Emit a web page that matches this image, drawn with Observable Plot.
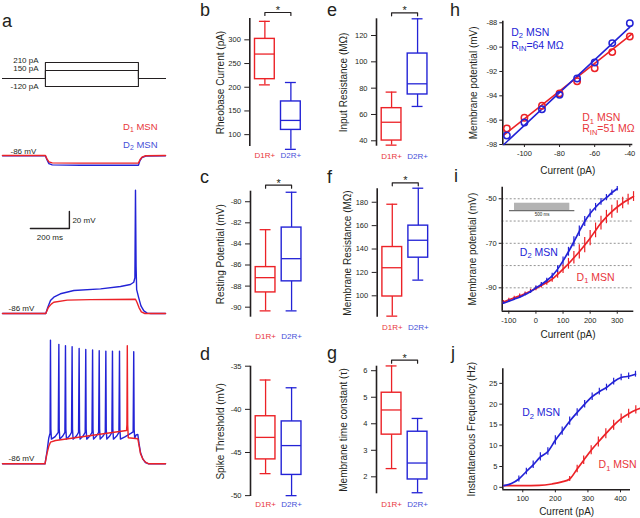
<!DOCTYPE html>
<html><head><meta charset="utf-8">
<script src="https://cdn.jsdelivr.net/npm/d3@7"></script>
<script src="https://cdn.jsdelivr.net/npm/@observablehq/plot@0.6"></script>
<style>
html,body{margin:0;padding:0;background:#fff;}
#fig{position:relative;width:640px;height:518px;overflow:hidden;font-family:"Liberation Sans",Arial,sans-serif;color:#231f20;}
#fig svg{position:absolute;left:0;top:0;}
.letter{position:absolute;font-size:18px;line-height:15px;color:#231f20;}
</style></head><body><div id="fig"></div>
<script>
// ---------------- DATA ----------------
const groups = ["D1R+", "D2R+"];
// box stats: [min, q1, median, q3, max]
const rheobaseD1 = [205, 217, 270, 302, 339];
const rheobaseD2 = [69, 110, 130, 170, 210];
const rheobaseTicks = [100, 150, 200, 250, 300];
const rheobaseDomain = [75, 345];
const restingD1 = [-90.35, -88.6, -87.2, -86.2, -82.65];
const restingD2 = [-90.35, -87.55, -85.4, -82.45, -79.1];
const restingTicks = [-90, -88, -86, -84, -82, -80];
const restingDomain = [-90.95, -79.0];
const thresholdD1 = [-47.45, -45.8, -43.25, -40.8, -36.6];
const thresholdD2 = [-50.0, -47.6, -44.2, -41.4, -37.5];
const thresholdTicks = [-50, -45, -40, -35];
const thresholdDomain = [-50.1, -35];
const inputResD1 = [36.7, 40.2, 54.1, 64.8, 77];
const inputResD2 = [66.1, 75.2, 83.3, 106.3, 132.7];
const inputResTicks = [40, 60, 80, 100, 120];
const inputResDomain = [35.9, 132.7];
const membraneResD1 = [82.6, 99.4, 124, 141.7, 178.3];
const membraneResD2 = [113.4, 132.6, 147.5, 160, 192];
const membraneResTicks = [100, 120, 140, 160, 180];
const membraneResDomain = [81.7, 191.5];
const tauD1 = [2.31, 3.59, 4.52, 5.17, 6.18];
const tauD2 = [1.4, 1.9, 2.52, 3.7, 4.2];
const tauTicks = [2, 3, 4, 5, 6];
const tauDomain = [1.36, 6.17];

// panel a: stimulus protocol (pA levels, schematic) and voltage traces [ms, mV]
const stimLevels = [210, 150, 0, -120];
const stimCurrents = [210, 150, -120];
const stimTimes = [0, 220, 697, 836];
const trace1Red = [[0,-86],[220,-86],[228,-90],[238,-93.5],[255,-94.7],[400,-95],[697,-95],[705,-91],[715,-88],[735,-86.3],[836,-86]];
const trace1Blue = [[0,-86.3],[220,-86.3],[228,-91],[238,-95.5],[255,-97],[400,-97.4],[697,-97.4],[705,-92],[715,-88.5],[735,-86.6],[836,-86.3]];
const trace2Red = [[0,-86],[222,-86],[235,-79],[250,-75],[263,-72.7],[332,-70.3],[450,-69.7],[682,-69.3],[690,-73],[700,-79],[712,-84],[730,-86],[836,-86]];
const trace2Blue = [[0,-86],[222,-86],[232,-79],[246,-70.7],[263,-66.8],[297,-62.8],[366,-59],[503,-57],[605,-54.2],[656,-51.9],[673,-49.2],[679,-44],[682,59],[685,-30],[688,-58],[698,-67],[710,-77],[725,-83],[742,-85.6],[760,-86],[836,-86]];
const trace3Red = [[0,-86],[218,-86],[228,-74],[238,-65],[246,-60.6],[272,-58.6],[636,-46.8],[638,-40],[640,53],[642,-40],[645,-55.4],[694,-56.6],[700,-64],[708,-74.2],[720,-80.5],[733,-84],[750,-86],[836,-86]];
const trace3Blue = [[0,-86],[218,-86],[228,-72],[237,-56],[244,-50],[246,59.5],[248,-45],[251,-57],
 [270,-54],[286,-49],[289,54.5],[291,-45],[294,-57],
 [310,-53],[320,-49],[323,52.9],[325,-45],[328,-57],
 [344,-53],[354,-49],[357,51.7],[359,-45],[362,-57],
 [380,-53],[390,-49],[393,49.7],[395,-45],[398,-57],
 [414,-53],[424,-49],[427,48.6],[429,-45],[432,-57],
 [449,-53],[459,-49],[462,47.8],[464,-45],[467,-57],
 [483,-53],[493,-49],[496,47],[498,-45],[501,-57],
 [517,-53],[527,-49],[530,46.6],[532,-45],[535,-57],
 [551,-53],[561,-49],[564,46.6],[566,-45],[569,-57],
 [587,-53],[597,-49],[600,46.6],[602,-45],[605,-57],
 [630,-54],[660,-50],[670,-48.5],[673,45.8],[675,-45],[678,-56],
 [685,-52],[694,-51.5],[700,-62],[708,-73],[720,-80.5],[733,-84.5],[750,-86],[836,-86]];
const scaleBarT = [143, 343];   // 200 ms
const scaleBarV = [14, 34];     // 20 mV

// panel h
const hCurrents = [-110, -100, -90, -80, -70, -60, -50, -40];
const hD2 = [-97.26, -96.19, -95.1, -93.92, -92.58, -91.26, -89.67, -88.03];
const hD1 = [-96.68, -95.8, -94.82, -93.8, -92.8, -91.73, -90.41, -89.13];
const hFitXD2 = [-111.7, -40], hFitD2 = [-98, -88.36];
const hFitXD1 = [-111.7, -38.7], hFitD1 = [-97.23, -88.91];
const hXTicks = [-100, -80, -60, -40], hYTicks = [-98, -96, -94, -92, -90, -88];
const hXDomain = [-112.3, -38.3], hYDomain = [-98, -87.87];

// panel i
const iCurrents = [-120,-100,-80,-60,-40,-20,0,20,40,60,80,100,120,140,160,180,200,220,240,260,280,300,320,340,360];
const iD2 = [-96.9,-96.0,-95.1,-94.2,-93.0,-91.8,-90.0,-88.5,-86.7,-84.6,-81.6,-77.9,-73.8,-69.3,-64.6,-60.2,-56.6,-53.8,-51.4,-49.5,-47.3,-45.5];
const iD2Err = [0.6,0.6,0.6,0.6,0.7,0.7,0.8,0.9,1.0,1.2,1.5,1.8,2.0,2.2,2.4,2.2,1.9,1.7,1.5,1.4,1.2,1.0];
const iD1 = [-96.4,-95.4,-94.5,-93.6,-92.7,-91.5,-90.3,-89.0,-87.6,-86.1,-84.0,-81.6,-79.2,-76.5,-73.8,-70.8,-67.7,-64.2,-60.9,-58.2,-55.8,-53.7,-51.9,-50.4,-49.0];
const iD1Err = [0.7,0.7,0.7,0.8,0.8,0.9,1.0,1.1,1.2,1.4,1.7,2.0,2.4,2.8,3.2,3.4,3.4,3.3,3.1,3.0,2.9,2.8,2.6,2.4,2.2];
const iGrid = [-50, -60, -70, -80, -90];
const iXTicks = [-100, 0, 100, 200, 300], iYTicks = [-50, -70, -90];
const iXDomain = [-124.4, 361], iYDomain = [-100.5, -44.8];
const insetBarX = [-79, 125], insetBarY = [-55.6, -52];
const insetLineX = [-97.5, 143.5], insetLineY = -55.3;

// panel j
const jD2X = [42, 65, 88, 111, 132, 154, 177, 200, 221, 244, 267, 290, 313, 335, 357, 379, 402, 425, 446];
const jD2Y = [0.4, 0.9, 2.0, 3.8, 5.4, 7.3, 8.6, 11.3, 13.5, 15.9, 18.0, 20.0, 21.8, 23.0, 24.0, 25.4, 26.4, 26.7, 27.2];
const jD2Err = [0, 0, 0.7, 0.8, 0.9, 1.0, 0.9, 1.1, 1.0, 1.0, 0.9, 0.9, 0.9, 0.8, 0.8, 0.8, 0.8, 0.8, 0.7];
const jD1X = [42, 100, 150, 190, 220, 244, 267, 287, 310, 332, 355, 379, 402, 425, 447, 461];
const jD1Y = [0.4, 0.4, 0.45, 0.8, 1.3, 2.0, 4.4, 6.5, 8.9, 10.9, 12.9, 14.9, 16.5, 17.7, 18.6, 19.0];
const jD1Err = [0, 0, 0, 0, 0, 0.6, 0.9, 1.0, 1.1, 1.2, 1.2, 1.2, 1.1, 1.1, 1.0, 0];
const jXTicks = [100, 200, 300, 400], jYTicks = [0, 5, 10, 15, 20, 25];
const jXDomain = [38.7, 430.7], jYDomain = [-0.6, 28.5];

// ---------------- STYLE / LAYOUT ----------------
const RED = "#ec2227", BLUE = "#2323d6", RED_T = "#e8363b", BLUE_T = "#4650d8", INK = "#231f20";
const FONT = '"Liberation Sans", Arial, sans-serif';
const W = 640, H = 518;
const fig = document.getElementById("fig");
const fmt = d => `${d}`;

function panel(frame, options) {
  const [l, t, r, b] = frame;
  const svg = Plot.plot({
    width: W, height: H,
    marginLeft: l, marginTop: t, marginRight: W - r, marginBottom: H - b,
    style: {background: "transparent", overflow: "visible", fontFamily: FONT, color: INK},
    color: {type: "identity"},
    ...options
  });
  fig.appendChild(svg);
  return svg;
}

// ---------- box panels ----------
function boxPanel(d1, d2, domain, ticks, label, sig, lay) {
  const [ax, top, bottom, catDy, labelDx] = lay;
  const xDomain = [0.42, 2.42];
  const rows = [d1, d2].map((s, i) => ({g: groups[i], x: i + 1, min: s[0], q1: s[1], med: s[2], q3: s[3], max: s[4], c: i ? BLUE : RED, ct: i ? BLUE_T : RED_T}));
  const k = (domain[1] - domain[0]) / (bottom - top);
  const marks = [
    Plot.ruleX([xDomain[0]], {y1: domain[0], y2: domain[1], stroke: INK, strokeWidth: 1.6}),
    Plot.axisY({ticks, tickFormat: fmt, anchor: "left", tickSize: 5, tickPadding: 4, fontSize: 7.5, label: null}),
    Plot.text([label], {frameAnchor: "left", rotate: -90, dx: labelDx, textAnchor: "middle", lineAnchor: "middle", fontSize: 10, fill: INK}),
    Plot.ruleX(rows, {x: "x", y1: "min", y2: "q1", stroke: "c", strokeWidth: 1.3}),
    Plot.ruleX(rows, {x: "x", y1: "q3", y2: "max", stroke: "c", strokeWidth: 1.3}),
    Plot.ruleY(rows, {y: "min", x1: d => d.x - 0.21, x2: d => d.x + 0.21, stroke: "c", strokeWidth: 1.3}),
    Plot.ruleY(rows, {y: "max", x1: d => d.x - 0.21, x2: d => d.x + 0.21, stroke: "c", strokeWidth: 1.3}),
    Plot.rect(rows, {x1: d => d.x - 0.38, x2: d => d.x + 0.38, y1: "q1", y2: "q3", fill: "white", stroke: "c", strokeWidth: 1.4}),
    Plot.ruleY(rows, {y: "med", x1: d => d.x - 0.38, x2: d => d.x + 0.38, stroke: "c", strokeWidth: 1.3}),
    Plot.text(rows, {x: "x", text: "g", frameAnchor: "bottom", lineAnchor: "middle", dy: catDy, fill: "ct", fontSize: 8})
  ];
  if (sig) {
    const yb = domain[1] + 6 * k, ye = domain[1] + 3 * k;
    marks.push(Plot.line([[1, ye], [1, yb], [2, yb], [2, ye]], {stroke: INK, strokeWidth: 1.2}));
    marks.push(Plot.text(["*"], {x: 1.5, y: yb, dy: -2, fontSize: 11, fill: INK}));
  }
  panel([ax, top, ax + 52, bottom], {x: {domain: xDomain, axis: null}, y: {domain}, marks});
}
boxPanel(rheobaseD1, rheobaseD2, rheobaseDomain, rheobaseTicks, "Rheobase Current (pA)", true, [249.3, 18, 146, 9, -29]);
boxPanel(restingD1, restingD2, restingDomain, restingTicks, "Resting Potential (mV)", true, [250, 190.7, 316.7, 19, -30]);
boxPanel(thresholdD1, thresholdD2, thresholdDomain, thresholdTicks, "Spike Threshold (mV)", false, [250, 365.7, 496, 8.3, -29.3]);
boxPanel(inputResD1, inputResD2, inputResDomain, inputResTicks, "Input Resistance (MΩ)", true, [376, 18.3, 145.7, 10, -33]);
boxPanel(membraneResD1, membraneResD2, membraneResDomain, membraneResTicks, "Membrane Resistance (MΩ)", true, [376.7, 188.3, 316.7, 10.6, -29]);
boxPanel(tauD1, tauD2, tauDomain, tauTicks, "Membrane time constant (τ)", true, [376, 365.7, 493.3, 10.7, -32.7]);

// ---------- panel a ----------
const MV_PER_PX = 20 / 17, MS_PER_PX = 200 / 39, T_MAX = 836, V_TOP = 70, V_BASE = -86, V_BOT = -100;
function traceFrame(baseY) {
  return [2, baseY - (V_TOP - V_BASE) / MV_PER_PX, 2 + T_MAX / MS_PER_PX, baseY + (V_BASE - V_BOT) / MV_PER_PX];
}
const traceOpts = {x: {domain: [0, T_MAX], axis: null}, y: {domain: [V_BOT, V_TOP], axis: null}};
// stimulus protocol (schematic: current levels on a point scale)
const stimLabelDy = [-2, -2, 0];
panel([2, 62, 2 + T_MAX / MS_PER_PX, 86], {
  x: {domain: [0, T_MAX], axis: null},
  y: {type: "point", domain: stimLevels, padding: 0, axis: null},
  marks: [
    ...stimCurrents.map(I => Plot.line([[stimTimes[0], 0], [stimTimes[1], 0], [stimTimes[1], I], [stimTimes[2], I], [stimTimes[2], 0], [stimTimes[3], 0]], {stroke: INK, strokeWidth: 1.1})),
    ...stimCurrents.map((I, i) => Plot.text([I], {x: 185, y: d => d, text: d => `${d} pA`, textAnchor: "end", fontSize: 8, fill: INK, dy: stimLabelDy[i]}))
  ]
});
// trace 1
panel(traceFrame(155), {...traceOpts, marks: [
  Plot.line(trace1Blue, {stroke: BLUE, strokeWidth: 1.4}),
  Plot.line(trace1Red, {stroke: RED, strokeWidth: 1.4}),
  Plot.text(["-86 mV"], {x: 41, y: V_BASE, dy: -4, textAnchor: "start", fontSize: 8, fill: INK}),
  Plot.text(["D_1 MSN"], {x: 795, y: -51.9, textAnchor: "end", fontSize: 9.5, fill: RED_T}),
  Plot.text(["D_2 MSN"], {x: 795, y: -73.1, textAnchor: "end", fontSize: 9.5, fill: BLUE_T})
]});
// trace 2
panel(traceFrame(313), {...traceOpts, marks: [
  Plot.line(trace2Blue, {stroke: BLUE, strokeWidth: 1.4}),
  Plot.line(trace2Red, {stroke: RED, strokeWidth: 1.4}),
  Plot.text(["-86 mV"], {x: 31, y: V_BASE, dy: -5, textAnchor: "start", fontSize: 8, fill: INK}),
  Plot.line([[scaleBarT[0], scaleBarV[0]], [scaleBarT[1], scaleBarV[0]], [scaleBarT[1], scaleBarV[1]]], {stroke: INK, strokeWidth: 1.4}),
  Plot.text(["20 mV"], {x: scaleBarT[1], y: (scaleBarV[0] + scaleBarV[1]) / 2, dx: 3, textAnchor: "start", fontSize: 8, fill: INK}),
  Plot.text(["200 ms"], {x: (scaleBarT[0] + scaleBarT[1]) / 2, y: scaleBarV[0], dy: 9, fontSize: 8, fill: INK})
]});
// trace 3
panel(traceFrame(463.3), {...traceOpts, marks: [
  Plot.line(trace3Blue, {stroke: BLUE, strokeWidth: 1.4}),
  Plot.line(trace3Red, {stroke: RED, strokeWidth: 1.4}),
  Plot.text(["-86 mV"], {x: 31, y: V_BASE, dy: -5, textAnchor: "start", fontSize: 8, fill: INK})
]});

// ---------- XY panels ----------
function axesXY(xd, yd, xt, yt, yLabel, labelDx, xLabelDy) {
  return [
    Plot.ruleX([xd[0]], {y1: yd[0], y2: yd[1], stroke: INK, strokeWidth: 1.6}),
    Plot.ruleY([yd[0]], {x1: xd[0], x2: xd[1], stroke: INK, strokeWidth: 1.6}),
    Plot.axisY({ticks: yt, tickFormat: fmt, anchor: "left", tickSize: 3, tickPadding: 2.5, fontSize: 7.5, label: null}),
    Plot.axisX({ticks: xt, tickFormat: fmt, anchor: "bottom", tickSize: 3, tickPadding: 3, fontSize: 7.5, label: null}),
    Plot.text([yLabel], {frameAnchor: "left", rotate: -90, dx: labelDx, textAnchor: "middle", lineAnchor: "middle", fontSize: 10, fill: INK}),
    Plot.text(["Current (pA)"], {frameAnchor: "bottom", lineAnchor: "middle", textAnchor: "middle", dy: xLabelDy, fontSize: 10, fill: INK})
  ];
}
// h
panel([502.3, 20.7, 632.3, 144], {
  x: {domain: hXDomain}, y: {domain: hYDomain},
  marks: [
    ...axesXY(hXDomain, hYDomain, hXTicks, hYTicks, "Membrane potential (mV)", -29, 26),
    Plot.line(hFitXD1.map((x, i) => [x, hFitD1[i]]), {stroke: RED, strokeWidth: 1.6}),
    Plot.line(hFitXD2.map((x, i) => [x, hFitD2[i]]), {stroke: BLUE, strokeWidth: 1.6}),
    Plot.dot(hCurrents, {x: d => d, y: (d, i) => hD1[i], r: 3.2, stroke: RED, strokeWidth: 1.5, fill: "none"}),
    Plot.dot(hCurrents, {x: d => d, y: (d, i) => hD2[i], r: 3.2, stroke: BLUE, strokeWidth: 1.5, fill: "none"}),
    Plot.text(["D_2 MSN"], {x: -107.5, y: -88.77, textAnchor: "start", fontSize: 10.5, fill: BLUE}),
    Plot.text(["R_IN=64 MΩ"], {x: -107.5, y: -89.86, textAnchor: "start", fontSize: 10.5, fill: BLUE}),
    Plot.text(["D_1 MSN"], {x: -67.1, y: -95.8, textAnchor: "start", fontSize: 10.5, fill: RED_T}),
    Plot.text(["R_IN=51 MΩ"], {x: -67.1, y: -96.7, textAnchor: "start", fontSize: 10.5, fill: RED_T})
  ]
});
// i
const iRowsD2 = iD2.map((v, i) => ({x: iCurrents[i], y: v, e: iD2Err[i]}));
const iRowsD1 = iD1.map((v, i) => ({x: iCurrents[i], y: v, e: iD1Err[i]}));
panel([501.7, 186.7, 633.3, 310.7], {
  x: {domain: iXDomain}, y: {domain: iYDomain},
  marks: [
    Plot.ruleY(iGrid, {x1: iXDomain[0], x2: iXDomain[1], stroke: "#777", strokeWidth: 0.8, strokeDasharray: "2,2"}),
    ...axesXY(iXDomain, iYDomain, iXTicks, iYTicks, "Membrane potential (mV)", -29.7, 23.6),
    Plot.rect([0], {x1: insetBarX[0], x2: insetBarX[1], y1: insetBarY[0], y2: insetBarY[1], fill: "#b3b3b3"}),
    Plot.ruleY([insetLineY], {x1: insetLineX[0], x2: insetLineX[1], stroke: "#6d6d6d", strokeWidth: 1.4}),
    Plot.text(["500 ms"], {x: (insetBarX[0] + insetBarX[1]) / 2, y: insetLineY, dy: 4, fontSize: 4.5, fill: INK}),
    Plot.line(iRowsD1, {x: "x", y: "y", stroke: RED, strokeWidth: 1.7, curve: "monotone-x"}),
    Plot.ruleX(iRowsD1, {x: "x", y1: d => d.y - d.e, y2: d => d.y + d.e, stroke: RED, strokeWidth: 1.2}),
    Plot.line(iRowsD2, {x: "x", y: "y", stroke: BLUE, strokeWidth: 1.7, curve: "monotone-x"}),
    Plot.ruleX(iRowsD2, {x: "x", y1: d => d.y - d.e, y2: d => d.y + d.e, stroke: BLUE, strokeWidth: 1.2}),
    Plot.text(["D_2 MSN"], {x: -59.5, y: -74.1, textAnchor: "start", fontSize: 10.5, fill: BLUE}),
    Plot.text(["D_1 MSN"], {x: 149.8, y: -85.2, textAnchor: "start", fontSize: 10.5, fill: RED_T})
  ]
});
// j
const jRowsD2 = jD2Y.map((v, i) => ({x: jD2X[i], y: v, e: jD2Err[i]}));
const jRowsD1 = jD1Y.map((v, i) => ({x: jD1X[i], y: v, e: jD1Err[i]}));
panel([502.3, 368.3, 630, 489.3], {
  x: {domain: jXDomain}, y: {domain: jYDomain},
  marks: [
    ...axesXY(jXDomain, jYDomain, jXTicks, jYTicks, "Instantaneous Frequency (Hz)", -30.6, 22.4),
    Plot.line(jRowsD1, {x: "x", y: "y", stroke: RED, strokeWidth: 1.7, curve: "monotone-x"}),
    Plot.ruleX(jRowsD1.filter(d => d.e > 0), {x: "x", y1: d => d.y - d.e, y2: d => d.y + d.e, stroke: RED, strokeWidth: 1.2}),
    Plot.line(jRowsD2, {x: "x", y: "y", stroke: BLUE, strokeWidth: 1.7, curve: "monotone-x"}),
    Plot.ruleX(jRowsD2.filter(d => d.e > 0), {x: "x", y1: d => d.y - d.e, y2: d => d.y + d.e, stroke: BLUE, strokeWidth: 1.2}),
    Plot.text(["D_2 MSN"], {x: 98.1, y: 17.9, textAnchor: "start", fontSize: 10.5, fill: BLUE}),
    Plot.text(["D_1 MSN"], {x: 332.7, y: 5.4, textAnchor: "start", fontSize: 10.5, fill: RED_T})
  ]
});

// subscripts (D_1 -> D with subscript 1)
fig.querySelectorAll("text").forEach(t => {
  const m = t.textContent.match(/^(.*?)_([A-Za-z0-9]+)(.*)$/);
  if (!m) return;
  const ns = "http://www.w3.org/2000/svg";
  t.textContent = "";
  const a = document.createElementNS(ns, "tspan"); a.textContent = m[1];
  const b = document.createElementNS(ns, "tspan"); b.textContent = m[2]; b.setAttribute("font-size", "72%"); b.setAttribute("dy", "2.5");
  const c = document.createElementNS(ns, "tspan"); c.textContent = m[3]; c.setAttribute("dy", "-2.5");
  t.append(a, b, c);
});

// panel letters
const letters = [["a", 2, 28], ["b", 200, 16.5], ["c", 200, 183.3], ["d", 200, 361], ["e", 327, 16.5], ["f", 327, 183.3], ["g", 327, 360], ["h", 450, 16.5], ["i", 454, 183], ["j", 451, 360]];
letters.forEach(([s, x, base]) => {
  const d = document.createElement("div");
  d.className = "letter"; d.textContent = s;
  d.style.left = x + "px"; d.style.top = (base - 13.74) + "px";
  fig.appendChild(d);
});
</script></body></html>
